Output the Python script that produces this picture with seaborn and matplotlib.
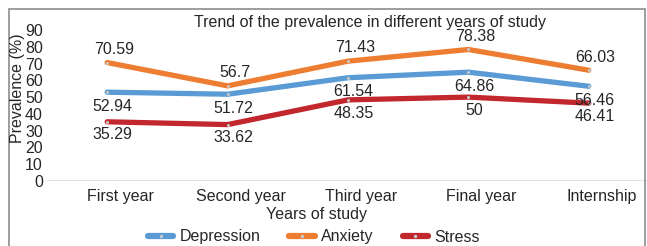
import numpy as np
import pandas as pd
import matplotlib
matplotlib.use("Agg")
import matplotlib.pyplot as plt
import matplotlib.transforms as mtrans
import seaborn as sns
from matplotlib.patches import Rectangle

# data
years = ["First year", "Second year", "Third year", "Final year", "Internship"]
depression = [52.94, 51.72, 61.54, 64.86, 56.46]
anxiety = [70.59, 56.7, 71.43, 78.38, 66.03]
stress = [35.29, 33.62, 48.35, 50, 46.41]
series_names = ["Depression", "Anxiety", "Stress"]

colors = {"Depression": "#5B9BD5", "Anxiety": "#ED7D31", "Stress": "#C1272D"}
# label offsets in points (dx, dy)
label_offsets = {"Depression": (4, -10), "Anxiety": (5, 9.5), "Stress": (4, -9.5)}
FS = 11.5
TXT = "#262626"

df = pd.DataFrame({
    "year": years * 3,
    "value": depression + anxiety + stress,
    "series": [s for s in series_names for _ in years],
})

sns.set_style("white")
plt.rcParams["font.family"] = ["Liberation Sans", "DejaVu Sans"]
plt.rcParams["font.size"] = FS

fig = plt.figure(figsize=(6.47, 2.46), dpi=100)
ax = fig.add_axes([47 / 647, 65 / 246, 602 / 647, 151 / 246])

sns.lineplot(data=df, x="year", y="value", hue="series", palette=colors,
             linewidth=3.8, marker="o", markersize=2.2, markerfacecolor="#c8c8c8",
             markeredgewidth=0, sort=False, legend=False, ax=ax)

ax.set_xlim(-0.5, 4.5)
ax.set_ylim(0, 90)
ax.set_yticks(np.arange(0, 91, 10))
ax.set_xticks(range(len(years)))
ax.set_xticklabels(years)
ax.tick_params(axis="both", length=0, labelsize=FS, colors=TXT)
ax.tick_params(axis="y", pad=3)
ax.tick_params(axis="x", pad=6)
# category labels sit a bit to the right of the points
offset = mtrans.ScaledTranslation(13 / 100, 0, fig.dpi_scale_trans)
for lbl in ax.get_xticklabels():
    lbl.set_transform(lbl.get_transform() + offset)

for sp in ax.spines.values():
    sp.set_visible(False)
ax.axhline(0, color="#d9d9d9", lw=1.2, zorder=0)
ax.set_xlabel("")
ax.set_ylabel("")

vals = {"Depression": depression, "Anxiety": anxiety, "Stress": stress}
for name in series_names:
    dx, dy = label_offsets[name]
    for i, v in enumerate(vals[name]):
        ax.annotate(f"{v:g}", xy=(i, v), xytext=(dx, dy), textcoords="offset points",
                    ha="center", va="center", fontsize=FS, color=TXT)

fig.text(370 / 647, 1 - 22 / 246, "Trend of the prevalence in different years of study",
         ha="center", va="center", fontsize=FS, color=TXT)
fig.text(18 / 647, 1 - 88 / 246, "Prevalence (%)", rotation=90,
         ha="center", va="center", fontsize=FS, color=TXT)
fig.text(316 / 647, 1 - 215 / 246, "Years of study",
         ha="center", va="center", fontsize=FS, color=TXT)

handles = [plt.Line2D([], [], color=colors[n], lw=4.5, marker="o", markersize=2.5,
                      markerfacecolor="#c8c8c8", markeredgewidth=0) for n in series_names]
fig.legend(handles, series_names, loc="center", bbox_to_anchor=(314 / 647, 1 - 237 / 246),
           ncol=3, frameon=False, fontsize=FS, handlelength=1.6, handletextpad=0.4,
           columnspacing=1.8, borderaxespad=0, borderpad=0, labelcolor=TXT)

fig.patches.append(Rectangle((9 / 647, -0.1), 636 / 647, 1.1 - 9 / 246,
                             transform=fig.transFigure, fill=False,
                             edgecolor="#8c8c8c", lw=1.2))

fig.savefig("out.png", dpi=100)
